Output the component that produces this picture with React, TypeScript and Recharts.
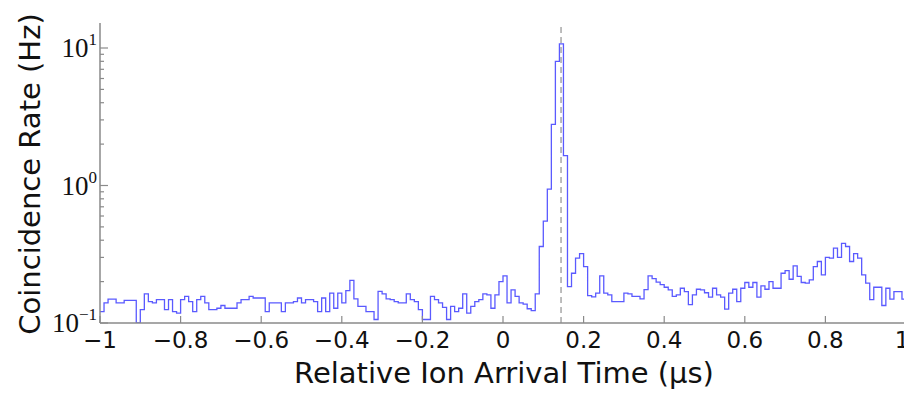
import { LineChart, Line, XAxis, YAxis, ReferenceLine } from "recharts";

// histogram bins, width 0.01 us, starting at -1 us
const BIN_START = -1;
const BIN_WIDTH = 0.01;
const RATES = [
  0.121, 0.140, 0.149, 0.149, 0.140, 0.140, 0.146, 0.146, 0.146, 0.100,
  0.125, 0.163, 0.143, 0.140, 0.148, 0.148, 0.125, 0.148, 0.121, 0.118,
  0.148, 0.156, 0.143, 0.121, 0.148, 0.156, 0.140, 0.125, 0.125, 0.128,
  0.134, 0.128, 0.128, 0.128, 0.140, 0.148, 0.148, 0.156, 0.152, 0.152,
  0.152, 0.121, 0.140, 0.140, 0.140, 0.121, 0.140, 0.140, 0.143, 0.152,
  0.140, 0.148, 0.148, 0.143, 0.121, 0.152, 0.121, 0.165, 0.128, 0.165,
  0.140, 0.172, 0.204, 0.150, 0.132, 0.132, 0.121, 0.121, 0.106, 0.170,
  0.163, 0.150, 0.148, 0.143, 0.140, 0.140, 0.163, 0.148, 0.143, 0.125,
  0.106, 0.106, 0.156, 0.148, 0.140, 0.130, 0.106, 0.132, 0.121, 0.128,
  0.163, 0.118, 0.132, 0.143, 0.148, 0.163, 0.160, 0.128, 0.160, 0.200,
  0.220, 0.140, 0.174, 0.156, 0.140, 0.137, 0.127, 0.123, 0.163, 0.36,
  0.55, 0.94, 2.78, 8.0, 10.7, 1.65, 0.184, 0.23, 0.296, 0.32,
  0.257, 0.158, 0.155, 0.165, 0.22, 0.165, 0.160, 0.143, 0.143, 0.143,
  0.165, 0.163, 0.156, 0.156, 0.150, 0.175, 0.220, 0.210, 0.198, 0.190,
  0.182, 0.174, 0.156, 0.160, 0.179, 0.169, 0.136, 0.160, 0.176, 0.174,
  0.166, 0.154, 0.179, 0.160, 0.154, 0.126, 0.165, 0.176, 0.143, 0.179,
  0.197, 0.182, 0.197, 0.154, 0.186, 0.176, 0.200, 0.179, 0.179, 0.230,
  0.240, 0.208, 0.260, 0.218, 0.197, 0.195, 0.206, 0.257, 0.280, 0.224,
  0.300, 0.296, 0.350, 0.300, 0.380, 0.360, 0.280, 0.320, 0.296, 0.224,
  0.195, 0.148, 0.182, 0.182, 0.134, 0.179, 0.149, 0.169, 0.169, 0.149,
];

const X_TICKS = [-1, -0.8, -0.6, -0.4, -0.2, 0, 0.2, 0.4, 0.6, 0.8, 1];
const Y_MAJOR = [0.1, 1, 10];
const Y_MINOR = [0.2, 0.3, 0.4, 0.5, 0.6, 0.7, 0.8, 0.9, 2, 3, 4, 5, 6, 7, 8, 9];
const Y_TICKS = [...Y_MAJOR, ...Y_MINOR].sort((a, b) => a - b);
const Y_EXP: Record<string, string> = { "0.1": "\u22121", "1": "0", "10": "1" };
const PEAK_MARK = 0.144;

const data = [
  ...RATES.map((r, i) => ({ t: BIN_START + i * BIN_WIDTH, rate: r })),
  { t: BIN_START + RATES.length * BIN_WIDTH, rate: RATES[RATES.length - 1] },
];

const AXIS = "#8a8a8a";
const LINE = "#5a5aff";

const fmtX = (v: number) => {
  const s = Math.abs(v) < 1e-9 ? "0" : String(Math.round(v * 10) / 10);
  return s.replace("-", "\u2212");
};

const BottomTick = (p: any) => (
  <g>
    <line x1={p.x} x2={p.x} y1={p.y} y2={p.y - 7} stroke={AXIS} strokeWidth={1.2} />
    <text
      x={p.payload.value === 1 ? p.x - 4 : p.x}
      y={p.y + 25}
      textAnchor="middle"
      fontSize={23}
      fill="#111"
      fontFamily="DejaVu Sans"
    >
      {fmtX(p.payload.value)}
    </text>
  </g>
);

const TopTick = (p: any) => (
  <line x1={p.x} x2={p.x} y1={p.y} y2={p.y + 7} stroke={AXIS} strokeWidth={1.2} />
);

const isMajor = (v: number) => Y_MAJOR.some((m) => Math.abs(m - v) < 1e-9);

const LeftTick = (p: any) => {
  const v = p.payload.value;
  const major = isMajor(v);
  return (
    <g>
      <line x1={p.x} x2={p.x + (major ? 8 : 4)} y1={p.y} y2={p.y} stroke={AXIS} strokeWidth={1.2} />
      {major && (
        <text x={p.x - 3} y={p.y + 9} textAnchor="end" fill="#111" fontFamily="Liberation Serif" fontSize={27}>
          10
          <tspan dy={-12} fontSize={17}>{Y_EXP[String(v)]}</tspan>
        </text>
      )}
    </g>
  );
};

const RightTick = (p: any) => {
  const major = isMajor(p.payload.value);
  return <line x1={p.x} x2={p.x - (major ? 8 : 4)} y1={p.y} y2={p.y} stroke={AXIS} strokeWidth={1.2} />;
};

export default function App() {
  return (
    <div style={{ position: "relative", width: 904, height: 385, fontFamily: "DejaVu Sans" }}>
      <LineChart width={904} height={385} data={data} margin={{ top: 15, right: 6, left: 0, bottom: 30 }}>
        <XAxis
          xAxisId="b"
          dataKey="t"
          type="number"
          domain={[-1, 1]}
          ticks={X_TICKS}
          interval={0}
          tickSize={0}
          tickMargin={0}
          tickLine={false}
          tick={<BottomTick />}
          axisLine={{ stroke: AXIS, strokeWidth: 1.5 }}
          height={40}
        />
        <XAxis
          xAxisId="t"
          orientation="top"
          dataKey="t"
          type="number"
          domain={[-1, 1]}
          ticks={X_TICKS}
          interval={0}
          tickSize={0}
          tickMargin={0}
          tickLine={false}
          tick={<TopTick />}
          axisLine={{ stroke: AXIS, strokeWidth: 1.5 }}
          height={0}
        />
        <YAxis
          yAxisId="l"
          scale="log"
          domain={[0.1, 15.2]}
          allowDataOverflow
          ticks={Y_TICKS}
          interval={0}
          tickSize={0}
          tickMargin={0}
          tickLine={false}
          tick={<LeftTick />}
          axisLine={{ stroke: AXIS, strokeWidth: 1.5 }}
          width={92}
        />
        <YAxis
          yAxisId="r"
          orientation="right"
          scale="log"
          domain={[0.1, 15.2]}
          allowDataOverflow
          ticks={Y_TICKS}
          interval={0}
          tickSize={0}
          tickMargin={0}
          tickLine={false}
          tick={<RightTick />}
          axisLine={{ stroke: AXIS, strokeWidth: 1.5 }}
          width={0}
        />
        <ReferenceLine
          xAxisId="b"
          yAxisId="l"
          x={PEAK_MARK}
          stroke="#a8a8a8"
          strokeWidth={1.5}
          strokeDasharray="6 4"
        />
        <Line
          xAxisId="b"
          yAxisId="l"
          dataKey="rate"
          type="stepAfter"
          stroke={LINE}
          strokeWidth={1.3}
          dot={false}
          isAnimationActive={false}
        />
      </LineChart>
      <div
        style={{
          position: "absolute",
          left: 22,
          top: 166,
          transform: "translate(-50%, -50%) rotate(-90deg)",
          fontSize: 29,
          whiteSpace: "nowrap",
          color: "#111",
        }}
      >
        Coincidence Rate (Hz)
      </div>
      <div
        style={{
          position: "absolute",
          left: 496,
          top: 348,
          transform: "translateX(-50%)",
          fontSize: 29,
          whiteSpace: "nowrap",
          color: "#111",
        }}
      >
        Relative Ion Arrival Time (μs)
      </div>
    </div>
  );
}
